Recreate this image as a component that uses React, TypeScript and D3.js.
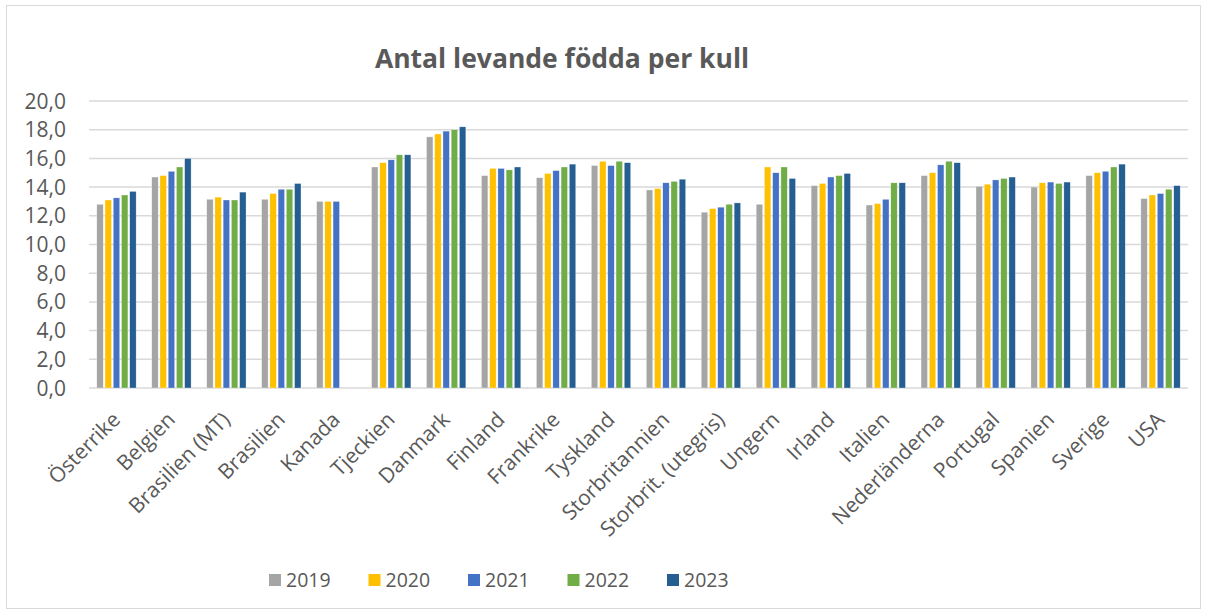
import React from "react";
import * as d3 from "d3";

// Countries (x categories)
const countries = [
  "Österrike", "Belgien", "Brasilien (MT)", "Brasilien", "Kanada", "Tjeckien",
  "Danmark", "Finland", "Frankrike", "Tyskland", "Storbritannien",
  "Storbrit. (utegris)", "Ungern", "Irland", "Italien", "Nederländerna",
  "Portugal", "Spanien", "Sverige", "USA",
];

const years = ["2019", "2020", "2021", "2022", "2023"];

// values per year, in country order (null = missing)
const v2019 = [12.8, 14.7, 13.15, 13.15, 13.0, 15.4, 17.5, 14.8, 14.65, 15.5, 13.8, 12.25, 12.8, 14.1, 12.75, 14.8, 14.05, 14.0, 14.8, 13.2];
const v2020 = [13.1, 14.8, 13.3, 13.55, 13.0, 15.7, 17.7, 15.3, 14.95, 15.8, 13.9, 12.5, 15.4, 14.25, 12.85, 15.0, 14.2, 14.3, 15.0, 13.45];
const v2021 = [13.25, 15.1, 13.1, 13.85, 13.0, 15.9, 17.9, 15.3, 15.15, 15.5, 14.3, 12.6, 15.0, 14.7, 13.15, 15.55, 14.5, 14.35, 15.1, 13.55];
const v2022 = [13.45, 15.4, 13.1, 13.85, null, 16.25, 18.0, 15.2, 15.4, 15.8, 14.4, 12.8, 15.4, 14.8, 14.3, 15.8, 14.6, 14.25, 15.4, 13.85];
const v2023 = [13.7, 16.0, 13.65, 14.25, null, 16.25, 18.2, 15.4, 15.6, 15.7, 14.55, 12.9, 14.6, 14.95, 14.3, 15.7, 14.7, 14.35, 15.6, 14.1];

const series = [v2019, v2020, v2021, v2022, v2023];
const colors = ["#A5A5A5", "#FFC000", "#4472C4", "#70AD47", "#255E91"];
const yTicks = [0, 2, 4, 6, 8, 10, 12, 14, 16, 18, 20];

const W = 1206;
const H = 611;
const font = "'Open Sans', sans-serif";

export default function App() {
  const margin = { left: 89, right: 18, top: 101, bottom: 223 };
  const x = d3.scaleBand<string>()
    .domain(countries)
    .range([margin.left, W - margin.right])
    .paddingInner(0)
    .paddingOuter(0);
  const y = d3.scaleLinear().domain([0, 20]).range([H - margin.bottom, margin.top]);
  const inner = d3.scaleBand<string>()
    .domain(years)
    .range([0, x.bandwidth()])
    .paddingOuter(0.95)
    .paddingInner(0.22);
  const fmt = (d: number) => d.toFixed(1).replace(".", ",");

  return (
    <svg width={W} height={H} style={{ position: "absolute", left: 0, top: 0, background: "#fff" }}>
      <rect x={6.5} y={5.5} width={W - 12} height={H - 8} fill="#fff" stroke="#D9D9D9" strokeWidth={1} />
      <text x={562} y={68} textAnchor="middle" fontFamily={font} fontWeight="bold" fontSize={26.5} fill="#595959">
        Antal levande födda per kull
      </text>
      {yTicks.map((t) => (
        <g key={t}>
          <line x1={margin.left} x2={W - margin.right} y1={y(t)} y2={y(t)} stroke="#D9D9D9" strokeWidth={1.5} />
          <text x={66} y={y(t)} dy="0.36em" textAnchor="end" fontFamily={font} fontSize={21} fill="#595959">
            {fmt(t)}
          </text>
        </g>
      ))}
      {series.map((vals, si) => (
        <g key={years[si]} fill={colors[si]}>
          {vals.map((v, ci) =>
            v == null ? null : (
              <rect
                key={ci}
                x={(x(countries[ci]) ?? 0) + (inner(years[si]) ?? 0)}
                y={y(v)}
                width={inner.bandwidth()}
                height={y(0) - y(v)}
                stroke="#fff"
                strokeOpacity={0.6}
                strokeWidth={0.5}
              />
            )
          )}
        </g>
      ))}
      {countries.map((c) => {
        const cx = (x(c) ?? 0) + x.bandwidth() / 2 + 5;
        const cy = y(0) + 33;
        return (
          <text key={c} transform={`translate(${cx},${cy}) rotate(-45)`} textAnchor="end"
            fontFamily={font} fontSize={21} fill="#595959">
            {c}
          </text>
        );
      })}
      {years.map((yr, i) => (
        <g key={yr} transform={`translate(${269 + i * 99.5},574)`}>
          <rect width={12} height={12} fill={colors[i]} />
          <text x={17} y={6} dy="0.36em" fontFamily={font} fontSize={19.5} fill="#595959">{yr}</text>
        </g>
      ))}
    </svg>
  );
}
